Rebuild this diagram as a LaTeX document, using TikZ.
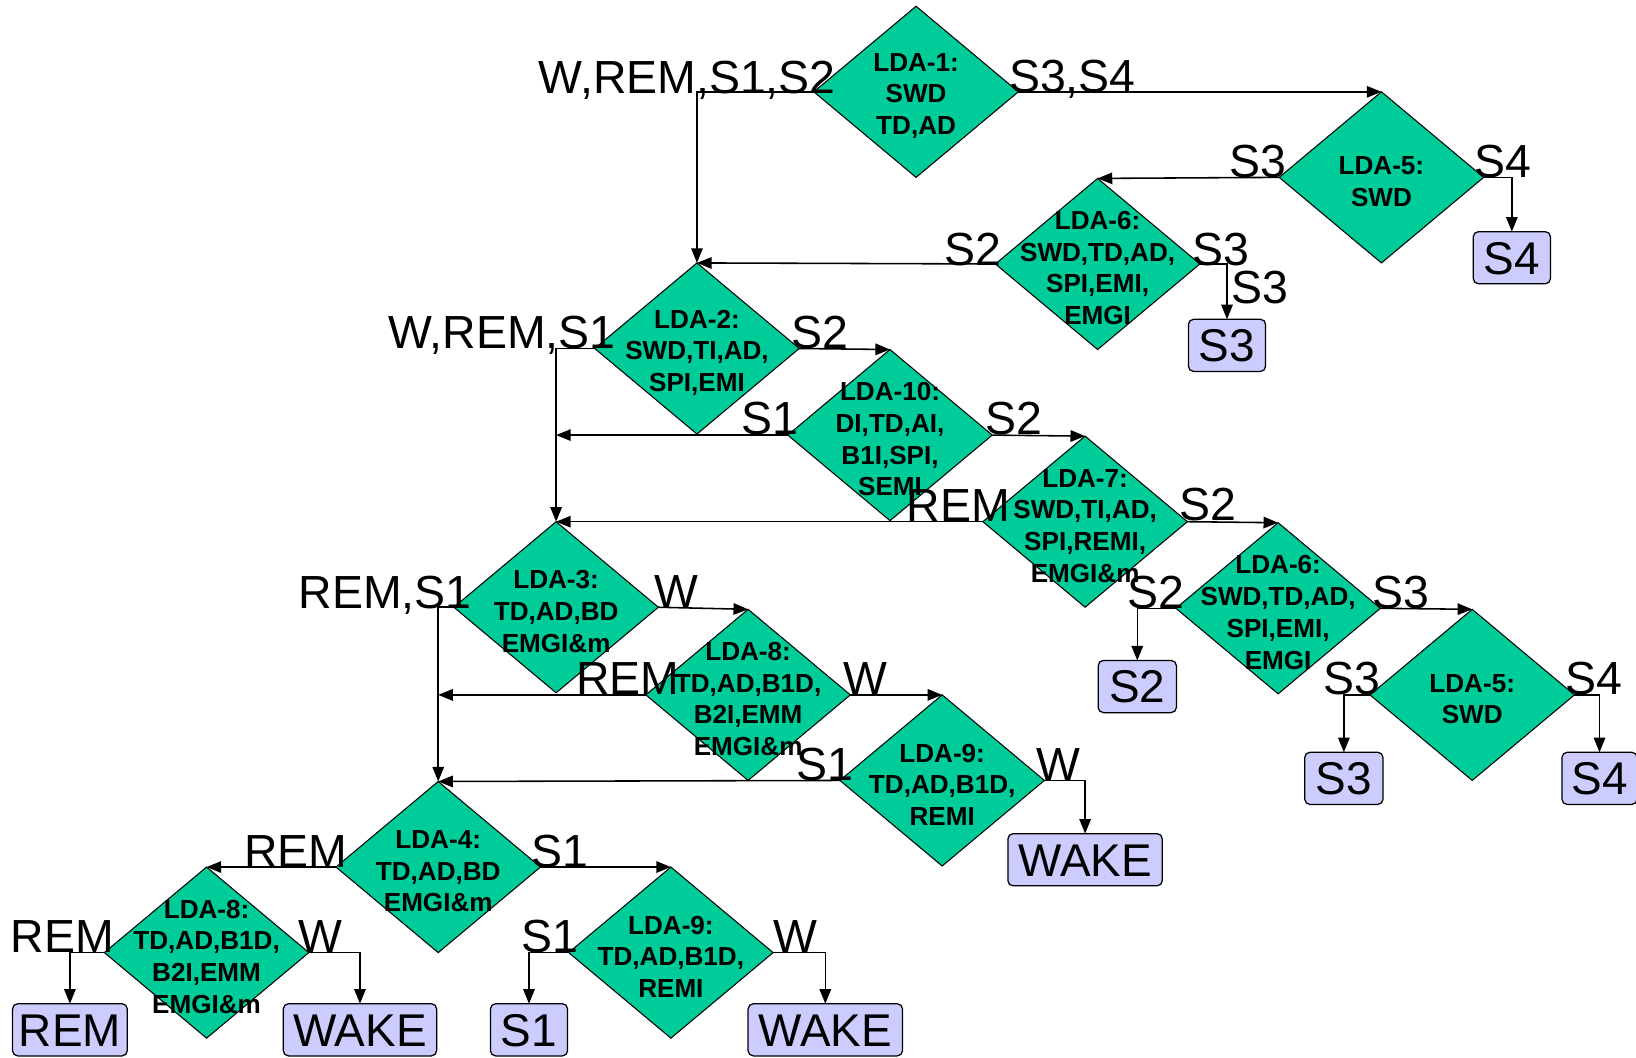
\documentclass[tikz,border=0pt]{standalone}
\usepackage{fontspec}
\setmainfont{Liberation Sans}
\usetikzlibrary{arrows.meta,shapes.geometric}
\definecolor{ldagreen}{HTML}{00CC99}
\definecolor{stagebox}{HTML}{CCCCFF}

\begin{document}
\begin{tikzpicture}[x=1pt,y=-1pt,
  dia/.style={shape=diamond, draw=black, line width=1pt, fill=ldagreen,
    minimum width=196pt, minimum height=164pt, inner sep=0pt, outer sep=0pt},
  dtxt/.style={font=\fontsize{25}{30.4}\selectfont\bfseries, align=center, inner sep=0pt, yshift=-4pt},
  lab/.style={font=\fontsize{44.5}{50}\selectfont, inner sep=0pt},
  res/.style={draw=black, line width=1.2pt, fill=stagebox, rounded corners=5pt,
    minimum height=50pt, inner sep=0pt, outer sep=0pt, text height=31.5pt, text depth=0pt,
    font=\fontsize{44}{50}\selectfont},
  flow/.style={line width=1.5pt, -{Triangle[length=14pt,width=11pt]}},
]
\useasboundingbox (0,0) rectangle (1568,1014);

% decision diamonds
\node[dia] (d1)  at (878,88)   {};
\node[dia] (d5a) at (1324,170) {};
\node[dia] (d6a) at (1052,253) {};
\node[dia] (d2)  at (668,334)  {};
\node[dia] (d10) at (853,417)  {};
\node[dia] (d7)  at (1040,500) {};
\node[dia] (d6b) at (1225,583) {};
\node[dia] (d5b) at (1411,666) {};
\node[dia] (d3)  at (533,582)  {};
\node[dia] (d8a) at (717,666)  {};
\node[dia] (d9a) at (903,748)  {};
\node[dia] (d4)  at (420,831)  {};
\node[dia] (d8b) at (198,913)  {};
\node[dia] (d9b) at (643,913)  {};

% final stages
\node[res, minimum width=74pt]  (s4a)   at (1449,247) {S4};
\node[res, minimum width=74pt]  (s3a)   at (1176,331) {S3};
\node[res, minimum width=75pt]  (s2b)   at (1090,658) {S2};
\node[res, minimum width=75pt]  (s3b)   at (1288,746) {S3};
\node[res, minimum width=72pt]  (s4b)   at (1533,746) {S4};
\node[res, minimum width=148pt] (wakeA) at (1040,824) {WAKE};
\node[res, minimum width=110pt] (rem)   at (67,987)   {REM};
\node[res, minimum width=147pt] (wakeB) at (345,987)  {WAKE};
\node[res, minimum width=74pt]  (s1)    at (507,987)  {S1};
\node[res, minimum width=148pt] (wakeC) at (791,987)  {WAKE};

% junctions on the vertical trunks
\coordinate (j1) at (d3.north |- d10.west);
\coordinate (j2) at (d4.north |- d8a.west);

% connectors
\draw[flow] (d1.west) -| (d2.north);
\draw[flow] (d1.east) -- (d5a.north);
\draw[flow] (d5a.west) -- (d6a.north);
\draw[flow] (d5a.east) -| (s4a.north);
\draw[flow] (d6a.west) -- (d2.north);
\draw[flow] (d6a.east) -| (s3a.north);
\draw[flow] (d2.west) -| (d3.north);
\draw[flow] (d2.east) -- (d10.north);
\draw[flow] (d10.west) -- (j1);
\draw[flow] (d10.east) -- (d7.north);
\draw[flow] (d7.west) -- (d3.north);
\draw[flow] (d7.east) -- (d6b.north);
\draw[flow] (d6b.west) -| (s2b.north);
\draw[flow] (d6b.east) -- (d5b.north);
\draw[flow] (d5b.west) -| (s3b.north);
\draw[flow] (d5b.east) -| (s4b.north);
\draw[flow] (d3.west) -| (d4.north);
\draw[flow] (d3.east) -- (d8a.north);
\draw[flow] (d8a.west) -- (j2);
\draw[flow] (d8a.east) -- (d9a.north);
\draw[flow] (d9a.west) -- (d4.north);
\draw[flow] (d9a.east) -| (wakeA.north);
\draw[flow] (d4.west) -- (d8b.north);
\draw[flow] (d4.east) -- (d9b.north);
\draw[flow] (d8b.west) -| (rem.north);
\draw[flow] (d8b.east) -| (wakeB.north);
\draw[flow] (d9b.west) -| (s1.north);
\draw[flow] (d9b.east) -| (wakeC.north);

% classifier contents
\node[dtxt] (t1)  at (d1)  {LDA-1:\\SWD\\TD,AD};
\node[dtxt] (t5a) at (d5a) {LDA-5:\\SWD};
\node[dtxt] (t6a) at (d6a) {LDA-6:\\SWD,TD,AD,\\SPI,EMI,\\EMGI};
\node[dtxt] (t2)  at (d2)  {LDA-2:\\SWD,TI,AD,\\SPI,EMI};
\node[dtxt] (t10) at (d10) {LDA-10:\\DI,TD,AI,\\B1I,SPI,\\SEMI};
\node[dtxt] (t7)  at (d7)  {LDA-7:\\SWD,TI,AD,\\SPI,REMI,\\EMGI\&m};
\node[dtxt] (t6b) at (d6b) {LDA-6:\\SWD,TD,AD,\\SPI,EMI,\\EMGI};
\node[dtxt] (t5b) at (d5b) {LDA-5:\\SWD};
\node[dtxt] (t3)  at (d3)  {LDA-3:\\TD,AD,BD\\EMGI\&m};
\node[dtxt] (t8a) at (d8a) {LDA-8:\\TD,AD,B1D,\\B2I,EMM\\EMGI\&m};
\node[dtxt] (t9a) at (d9a) {LDA-9:\\TD,AD,B1D,\\REMI};
\node[dtxt] (t4)  at (d4)  {LDA-4:\\TD,AD,BD\\EMGI\&m};
\node[dtxt] (t8b) at (d8b) {LDA-8:\\TD,AD,B1D,\\B2I,EMM\\EMGI\&m};
\node[dtxt] (t9b) at (d9b) {LDA-9:\\TD,AD,B1D,\\REMI};

% branch labels
\node[lab, anchor=base east] (l1)  at (801,90)   {W,REM,S1,S2};
\node[lab, anchor=base west] (l2)  at (967,89)   {S3,S4};
\node[lab, anchor=base east] (l3)  at (1233,170) {S3};
\node[lab, anchor=base west] (l4)  at (1413,170) {S4};
\node[lab, anchor=base east] (l5)  at (960,254)  {S2};
\node[lab, anchor=base west] (l6)  at (1143,254) {S3};
\node[lab, anchor=base west] (l7)  at (1180,291) {S3};
\node[lab, anchor=base east] (l8)  at (590,334)  {W,REM,S1};
\node[lab, anchor=base west] (l9)  at (758,334)  {S2};
\node[lab, anchor=base east] (l10) at (765,416)  {S1};
\node[lab, anchor=base west] (l11) at (944,416)  {S2};
\node[lab, anchor=base east] (l12) at (968,500)  {REM};
\node[lab, anchor=base west] (l13) at (1130,499) {S2};
\node[lab, anchor=base west] (l14) at (1080,583) {S2};
\node[lab, anchor=base west] (l15) at (1315,583) {S3};
\node[lab, anchor=base west] (l16) at (1268,666) {S3};
\node[lab, anchor=base west] (l17) at (1500,666) {S4};
\node[lab, anchor=base east] (l18) at (452,583)  {REM,S1};
\node[lab, anchor=base west] (l19) at (627,582)  {W};
\node[lab, anchor=base west] (l20) at (552,666)  {REM};
\node[lab, anchor=base west] (l21) at (808,666)  {W};
\node[lab, anchor=base west] (l22) at (763,748)  {S1};
\node[lab, anchor=base west] (l23) at (993,748)  {W};
\node[lab, anchor=base west] (l24) at (234,831)  {REM};
\node[lab, anchor=base west] (l25) at (509,831)  {S1};
\node[lab, anchor=base west] (l26) at (10,913)   {REM};
\node[lab, anchor=base west] (l27) at (286,913)  {W};
\node[lab, anchor=base west] (l28) at (500,913)  {S1};
\node[lab, anchor=base west] (l29) at (741,913)  {W};
\end{tikzpicture}
\end{document}
